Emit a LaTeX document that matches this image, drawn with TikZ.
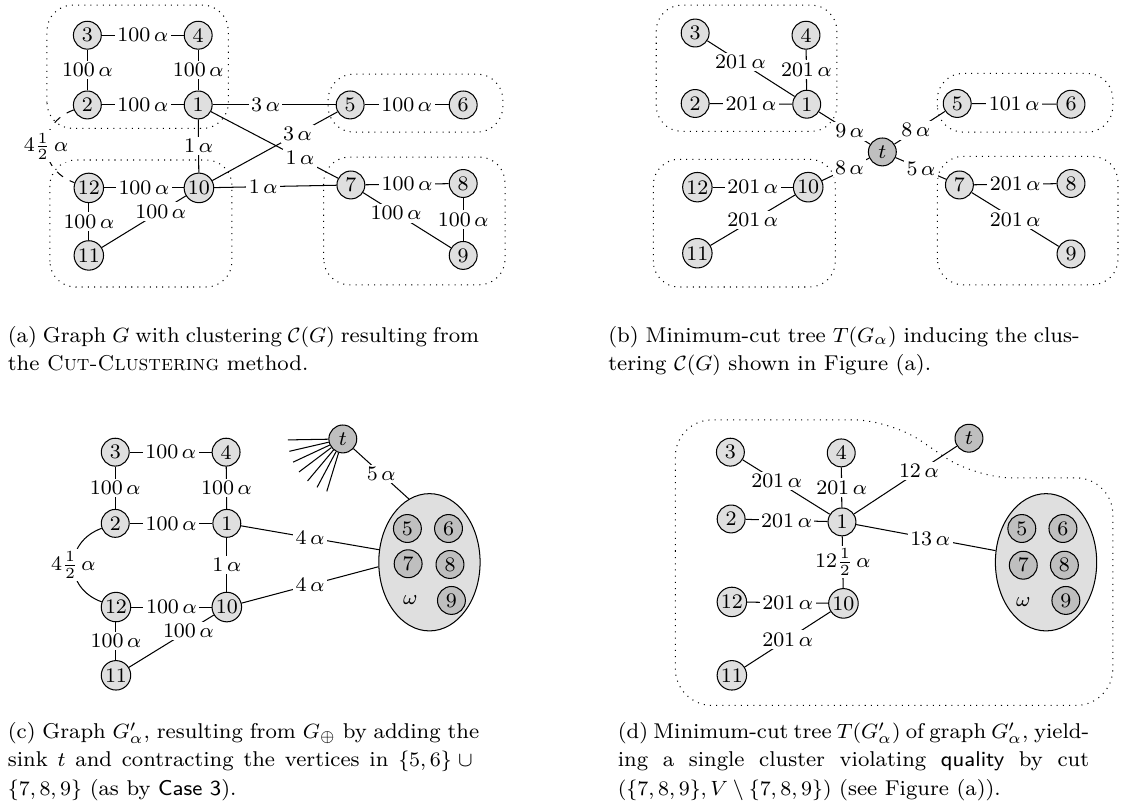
\documentclass[tikz,border=0pt]{standalone}
\usetikzlibrary{shapes.geometric}

\begin{document}
\begin{tikzpicture}[
  vert/.style={circle,draw,fill=gray!25,minimum size=0.38cm,inner sep=0.5pt,font=\footnotesize},
  sink/.style={vert,fill=gray!50},
  lbl/.style={fill=white,inner sep=1pt,font=\footnotesize},
  cluster/.style={dotted,rounded corners=0.35cm},
  blob/.style={ellipse,draw,fill=gray!25,minimum width=1.38cm,minimum height=1.87cm},
  caption/.style={text width=6.42cm,align=justify,inner sep=0pt,anchor=base west,
    font=\fontsize{8.3}{11}\selectfont}
]
\useasboundingbox (0,0) rectangle (15.53,11.01);

% (a) graph G
\draw[cluster] (0.64,9.26) rectangle (3.11,10.94);
\draw[cluster] (0.68,7.10) rectangle (3.16,8.83);
\draw[cluster] (4.47,9.21) rectangle (6.85,10.00);
\draw[cluster] (4.41,7.13) rectangle (6.88,8.87);
\node[vert] (a3) at (1.19,10.53) {3};
\node[vert] (a4) at (2.70,10.53) {4};
\node[vert] (a2) at (1.19,9.58) {2};
\node[vert] (a1) at (2.70,9.58) {1};
\node[vert] (a5) at (4.77,9.58) {5};
\node[vert] (a6) at (6.31,9.58) {6};
\node[vert] (a12) at (1.21,8.45) {12};
\node[vert] (a10) at (2.71,8.45) {10};
\node[vert] (a11) at (1.21,7.53) {11};
\node[vert] (a7) at (4.78,8.49) {7};
\node[vert] (a8) at (6.31,8.51) {8};
\node[vert] (a9) at (6.31,7.53) {9};
\draw (a3) -- node[lbl] {$100\,\alpha$} (a4);
\draw (a3) -- node[lbl] {$100\,\alpha$} (a2);
\draw (a4) -- node[lbl] {$100\,\alpha$} (a1);
\draw (a2) -- node[lbl] {$100\,\alpha$} (a1);
\draw (a1) -- node[lbl,pos=0.43] {$3\,\alpha$} (a5);
\draw (a1) -- node[lbl,pos=0.7] {$1\,\alpha$} (a7);
\draw (a1) -- node[lbl] {$1\,\alpha$} (a10);
\draw (a10) -- node[lbl,pos=0.68] {$3\,\alpha$} (a5);
\draw (a10) -- node[lbl,pos=0.4] {$1\,\alpha$} (a7);
\draw (a12) -- node[lbl] {$100\,\alpha$} (a10);
\draw (a12) -- node[lbl] {$100\,\alpha$} (a11);
\draw (a10) -- node[lbl,pos=0.3] {$100\,\alpha$} (a11);
\draw (a5) -- node[lbl] {$100\,\alpha$} (a6);
\draw (a7) -- node[lbl] {$100\,\alpha$} (a8);
\draw (a8) -- node[lbl] {$100\,\alpha$} (a9);
\draw (a7) -- node[lbl,pos=0.375] {$100\,\alpha$} (a9);
\draw[dashed] (a2) to[out=200,in=160,looseness=1.4] node[lbl] {$4\frac{1}{2}\,\alpha$} (a12);

% (b) minimum-cut tree
\draw[cluster] (8.94,9.22) rectangle (11.40,10.94);
\draw[cluster] (8.90,7.10) rectangle (11.38,8.84);
\draw[cluster] (12.77,9.21) rectangle (15.16,10.01);
\draw[cluster] (12.77,7.13) rectangle (15.23,8.88);
\node[vert] (b3) at (9.47,10.56) {3};
\node[vert] (b4) at (10.98,10.53) {4};
\node[vert] (b2) at (9.47,9.60) {2};
\node[vert] (b1) at (10.99,9.59) {1};
\node[sink] (bt) at (12.02,8.94) {$t$};
\node[vert] (b12) at (9.50,8.46) {12};
\node[vert] (b10) at (11.01,8.46) {10};
\node[vert] (b11) at (9.50,7.56) {11};
\node[vert] (b5) at (13.04,9.60) {5};
\node[vert] (b6) at (14.59,9.59) {6};
\node[vert] (b7) at (13.07,8.49) {7};
\node[vert] (b8) at (14.59,8.51) {8};
\node[vert] (b9) at (14.59,7.55) {9};
\draw (b3) -- node[lbl,pos=0.38] {$201\,\alpha$} (b1);
\draw (b4) -- node[lbl] {$201\,\alpha$} (b1);
\draw (b2) -- node[lbl] {$201\,\alpha$} (b1);
\draw (b1) -- node[lbl,pos=0.6] {$9\,\alpha$} (bt);
\draw (b10) -- node[lbl,pos=0.58] {$8\,\alpha$} (bt);
\draw (b12) -- node[lbl] {$201\,\alpha$} (b10);
\draw (b11) -- node[lbl] {$201\,\alpha$} (b10);
\draw (bt) -- node[lbl,pos=0.42] {$8\,\alpha$} (b5);
\draw (bt) -- node[lbl] {$5\,\alpha$} (b7);
\draw (b5) -- node[lbl] {$101\,\alpha$} (b6);
\draw (b7) -- node[lbl] {$201\,\alpha$} (b8);
\draw (b7) -- node[lbl] {$201\,\alpha$} (b9);

% (c) graph G'_alpha
\node[vert] (c3) at (1.57,4.85) {3};
\node[vert] (c4) at (3.08,4.85) {4};
\node[vert] (c2) at (1.57,3.88) {2};
\node[vert] (c1) at (3.09,3.88) {1};
\node[vert] (c12) at (1.58,2.74) {12};
\node[vert] (c10) at (3.09,2.74) {10};
\node[vert] (c11) at (1.58,1.81) {11};
\node[sink] (ct) at (4.67,5.03) {$t$};
\node[blob] (cw) at (5.85,3.35) {};
\node[sink] (c5) at (5.55,3.81) {5};
\node[sink] (c6) at (6.11,3.81) {6};
\node[sink] (c7) at (5.56,3.33) {7};
\node[sink] (c8) at (6.13,3.32) {8};
\node[sink] (c9) at (6.15,2.83) {9};
\node[font=\footnotesize] (cw0) at (5.59,2.83) {$\omega$};
\draw (c3) -- node[lbl] {$100\,\alpha$} (c4);
\draw (c3) -- node[lbl] {$100\,\alpha$} (c2);
\draw (c4) -- node[lbl] {$100\,\alpha$} (c1);
\draw (c2) -- node[lbl] {$100\,\alpha$} (c1);
\draw (c1) -- node[lbl] {$1\,\alpha$} (c10);
\draw (c12) -- node[lbl] {$100\,\alpha$} (c10);
\draw (c12) -- node[lbl] {$100\,\alpha$} (c11);
\draw (c10) -- node[lbl,pos=0.3] {$100\,\alpha$} (c11);
\draw (c2) to[out=200,in=160,looseness=1.4] node[lbl] {$4\frac{1}{2}\,\alpha$} (c12);
\draw (c1) -- node[lbl] {$4\,\alpha$} (cw.166);
\draw (c10) -- node[lbl] {$4\,\alpha$} (cw.185);
\draw (ct) -- node[lbl] {$5\,\alpha$} (cw.108);
\foreach \a in {181,193,205,217,230,242,253}
  \draw (ct.\a) -- +(\a:0.55);

% (d) minimum-cut tree of G'_alpha
\draw[cluster,rounded corners=0.5cm] (9.20,3.00) -- (9.20,5.29) -- (12.13,5.29) -- (13.28,4.50)
  -- (15.16,4.50) -- (15.16,1.40) -- (9.20,1.40) -- cycle;
\node[vert] (d3) at (9.95,4.85) {3};
\node[vert] (d4) at (11.46,4.84) {4};
\node[vert] (d2) at (9.96,3.94) {2};
\node[vert] (d1) at (11.47,3.90) {1};
\node[vert] (d12) at (9.97,2.81) {12};
\node[vert] (d10) at (11.49,2.79) {10};
\node[vert] (d11) at (9.97,1.81) {11};
\node[sink] (dt) at (13.20,5.04) {$t$};
\node[blob] (dw) at (14.25,3.35) {};
\node[sink] (d5) at (13.92,3.81) {5};
\node[sink] (d6) at (14.48,3.81) {6};
\node[sink] (d7) at (13.94,3.31) {7};
\node[sink] (d8) at (14.50,3.31) {8};
\node[sink] (d9) at (14.52,2.83) {9};
\node[font=\footnotesize] (dw0) at (13.94,2.81) {$\omega$};
\draw (d3) -- node[lbl,pos=0.39] {$201\,\alpha$} (d1);
\draw (d4) -- node[lbl] {$201\,\alpha$} (d1);
\draw (d2) -- node[lbl] {$201\,\alpha$} (d1);
\draw (d1) -- node[lbl] {$12\frac{1}{2}\,\alpha$} (d10);
\draw (d12) -- node[lbl] {$201\,\alpha$} (d10);
\draw (d11) -- node[lbl] {$201\,\alpha$} (d10);
\draw (d1) -- node[lbl,pos=0.63] {$12\,\alpha$} (dt);
\draw (d1) -- node[lbl,pos=0.53] {$13\,\alpha$} (dw.167);

% captions
\node[caption] (capa) at (0.10,6.35) {(a) Graph $G$ with clustering $\mathcal{C}(G)$ resulting from\linebreak the \textsc{Cut-Clustering} method.};
\node[caption] (capb) at (8.28,6.35) {(b) Minimum-cut tree $T(G_\alpha)$ inducing the clus-\linebreak tering $\mathcal{C}(G)$ shown in Figure (a).};
\node[caption] (capc) at (0.10,0.95) {(c) Graph $G'_\alpha$, resulting from $G_\oplus$ by adding the\linebreak sink $t$ and contracting the vertices in $\{5,6\}\cup{}$\linebreak $\{7,8,9\}$ (as by \textsf{Case 3}).};
\node[caption] (capd) at (8.41,0.95) {(d) Minimum-cut tree $T(G'_\alpha)$ of graph $G'_\alpha$, yield-\linebreak ing a single cluster violating \textsf{quality} by cut\linebreak $(\{7,8,9\},V\setminus\{7,8,9\})$ (see Figure (a)).};

\end{tikzpicture}
\end{document}
